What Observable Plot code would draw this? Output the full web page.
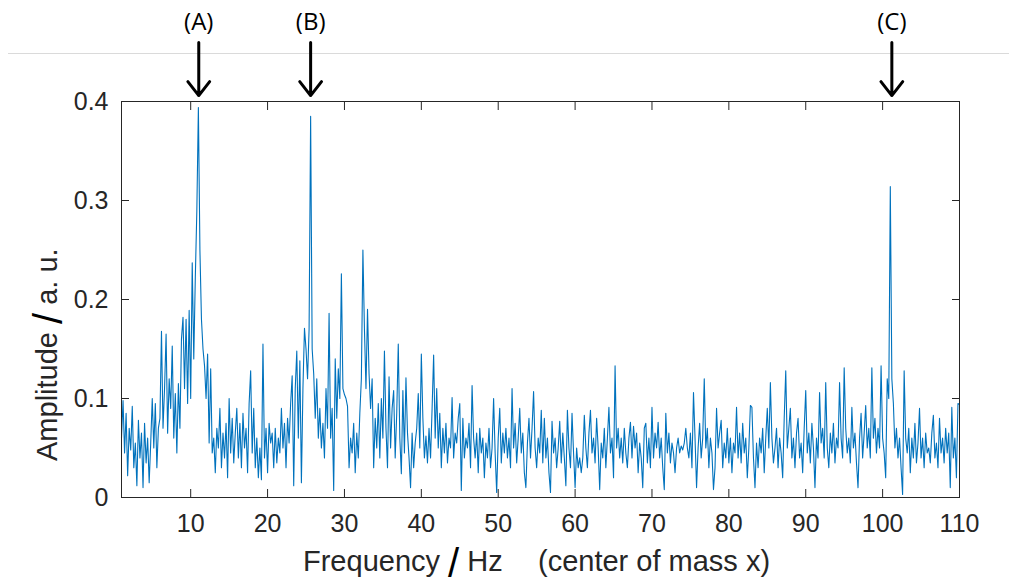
<!DOCTYPE html>
<html>
<head>
<meta charset="utf-8">
<script src="https://cdn.jsdelivr.net/npm/d3@7"></script>
<script src="https://cdn.jsdelivr.net/npm/@observablehq/plot@0.6"></script>
<style>
  html, body { margin: 0; padding: 0; background: #fff; }
  #chart { width: 1009px; height: 586px; }
</style>
</head>
<body>
<div id="chart"></div>
<script>
// ---- data ----
const freqStart = 1;      // Hz, first sample
const freqStep = 0.2;     // Hz between samples
const amplitude = [
  // 1.0 - 5.8 Hz
  .060,.098,.045,.085,.022,.070,.048,.092,.030,.055,.012,.078,.040,.065,.010,.075,.035,.060,.015,.055,.100,.050,.095,.030,.070,
  // 6.0 - 10.8
  .080,.168,.070,.110,.165,.065,.120,.090,.153,.060,.105,.045,.115,.070,.160,.182,.110,.180,.095,.189,.100,.237,.140,.222,.290,
  // 11.0 - 15.8
  .394,.250,.180,.150,.133,.100,.145,.055,.130,.045,.060,.025,.070,.050,.090,.030,.065,.040,.075,.020,.100,.045,.080,.035,.065,
  // 16.0 - 20.8
  .090,.040,.075,.030,.085,.050,.070,.025,.095,.128,.045,.090,.030,.060,.020,.050,.018,.155,.040,.070,.025,.075,.055,.065,.030,
  // 21.0 - 25.8
  .070,.035,.060,.045,.090,.050,.075,.030,.080,.055,.095,.123,.012,.110,.148,.060,.138,.015,.110,.171,.150,.120,.170,.385,.150,
  // 26.0 - 30.8
  .125,.080,.120,.060,.090,.050,.075,.040,.110,.070,.186,.060,.090,.007,.140,.080,.130,.100,.226,.110,.104,.100,.092,.030,.060,
  // 31.0 - 35.8
  .045,.075,.025,.065,.040,.085,.120,.250,.170,.110,.190,.125,.090,.120,.030,.080,.050,.095,.040,.100,.060,.148,.070,.030,.122,
  // 36.0 - 40.8
  .050,.090,.108,.040,.085,.155,.060,.024,.108,.045,.121,.065,.040,.010,.065,.030,.055,.070,.105,.050,.145,.080,.040,.062,.035,
  // 41.0 - 45.8
  .070,.040,.090,.144,.060,.110,.050,.085,.030,.070,.045,.075,.035,.060,.050,.101,.040,.065,.055,.080,.095,.007,.080,.040,.060,
  // 46.0 - 50.8
  .050,.075,.030,.113,.060,.040,.065,.025,.070,.045,.060,.020,.055,.040,.070,.030,.050,.100,.045,.005,.060,.090,.035,.065,.045,
  // 51.0 - 55.8
  .070,.040,.060,.030,.110,.050,.075,.035,.060,.090,.045,.065,.025,.010,.055,.080,.040,.070,.107,.050,.030,.060,.045,.088,.035,
  // 56.0 - 60.8
  .080,.040,.060,.025,.005,.077,.045,.060,.030,.050,.077,.035,.065,.040,.012,.088,.050,.030,.085,.045,.010,.050,.030,.040,.025,
  // 61.0 - 65.8
  .040,.083,.050,.030,.065,.088,.045,.060,.035,.080,.050,.008,.055,.040,.070,.030,.060,.091,.045,.060,.020,.133,.050,.070,.040,
  // 66.0 - 70.8
  .060,.035,.070,.045,.030,.060,.076,.040,.072,.050,.065,.025,.055,.040,.010,.070,.075,.035,.060,.030,.091,.040,.065,.050,.076,
  // 71.0 - 75.8
  .040,.060,.030,.008,.085,.045,.065,.035,.055,.045,.025,.050,.060,.045,.052,.048,.055,.070,.050,.040,.065,.030,.106,.060,.010,
  // 76.0 - 80.8
  .050,.075,.040,.060,.120,.050,.070,.030,.060,.045,.008,.030,.090,.050,.065,.078,.030,.055,.040,.070,.035,.060,.025,.055,.045,
  // 81.0 - 85.8
  .091,.040,.065,.035,.075,.045,.060,.020,.050,.093,.091,.040,.010,.055,.030,.060,.045,.070,.025,.060,.090,.050,.116,.060,.035,
  // 86.0 - 90.8
  .050,.070,.030,.060,.045,.020,.080,.128,.050,.070,.090,.040,.060,.030,.065,.080,.040,.055,.025,.070,.108,.045,.065,.035,.075,
  // 91.0 - 95.8
  .050,.010,.060,.040,.106,.055,.070,.040,.116,.050,.030,.065,.045,.075,.035,.060,.050,.116,.060,.040,.131,.070,.045,.060,.035,
  // 96.0 - 100.8
  .091,.050,.065,.035,.010,.060,.085,.040,.065,.093,.050,.070,.040,.131,.060,.080,.045,.070,.050,.133,.060,.045,.020,.120,.100,
  // 101.0 - 105.8
  .314,.120,.095,.050,.070,.040,.060,.030,.003,.128,.060,.045,.070,.025,.060,.040,.075,.035,.055,.090,.040,.060,.030,.065,.045,
  // 106.0 - 110.0
  .050,.035,.065,.083,.040,.055,.030,.080,.045,.060,.035,.070,.045,.065,.010,.091,.040,.060,.020,.095,.094
];

const xTicks = [10, 20, 30, 40, 50, 60, 70, 80, 90, 100, 110];
const yTicks = [0, 0.1, 0.2, 0.3, 0.4];
const yTickLabels = ["0", "0.1", "0.2", "0.3", "0.4"];

const annoLabels = ["(A)", "(B)", "(C)"];
const annoFreq = [11.05, 25.6, 101.2];

const xLabelMain = "Frequency ";
const xLabelUnit = " Hz";
const xLabelNote = "(center of mass x)";
const yLabelMain = "Amplitude ";
const yLabelUnit = " a. u.";

// ---- build tables ----
const data = amplitude.map((a, i) => ({ f: freqStart + i * freqStep, a }));
const annos = annoLabels.map((label, i) => ({ label, f: annoFreq[i] }));

const axisFont = "'Liberation Sans', Arial, Helvetica, sans-serif";
const ink = "#262626";

const chart = Plot.plot({
  width: 1009,
  height: 586,
  marginLeft: 121,
  marginRight: 50,
  marginTop: 101,
  marginBottom: 89,
  style: { fontFamily: axisFont, background: "white", color: ink, overflow: "visible" },
  x: { domain: [1, 110] },
  y: { domain: [0, 0.4] },
  marks: [
    Plot.line(data, { x: "f", y: "a", stroke: "#0072BD", strokeWidth: 1.1 }),
    Plot.axisX({ anchor: "bottom", ticks: xTicks, tickSize: -8, tickPadding: 25, fontSize: 25, label: null, tickFormat: d => String(d) }),
    Plot.axisX({ anchor: "top", ticks: xTicks, tickSize: -8, tickFormat: () => "", label: null }),
    Plot.axisY({ anchor: "left", ticks: yTicks, tickSize: -8, tickPadding: 21, fontSize: 25, label: null, tickFormat: d => yTickLabels[yTicks.indexOf(d)] }),
    Plot.axisY({ anchor: "right", ticks: yTicks, tickSize: -8, tickFormat: () => "", label: null }),
    Plot.frame({ stroke: ink, strokeWidth: 1 }),
    Plot.text(annos, { x: "f", frameAnchor: "top", lineAnchor: "middle", dy: -79, text: "label", fontSize: 24, fontFamily: "'Open Sans', 'Noto Sans', sans-serif", fill: "black" }),
    Plot.arrow(annos, { x: "f", y1: () => 0.4596, y2: () => 0.406, stroke: "black", strokeWidth: 3, headLength: 10, headAngle: 76 })
  ]
});

const svg = d3.select(chart);

// thin grey separator line across the page (part of the original slide)
svg.insert("line", ":first-child")
  .attr("x1", 8).attr("x2", 1009).attr("y1", 53.5).attr("y2", 53.5)
  .attr("stroke", "#dadada").attr("stroke-width", 1);

// x axis title
const xl = svg.append("text")
  .attr("x", 303).attr("y", 571)
  .attr("text-anchor", "start")
  .attr("font-family", axisFont).attr("font-size", 29).attr("fill", ink)
  .style("white-space", "pre");
xl.append("tspan").text(xLabelMain);
xl.append("tspan").attr("font-size", 40).attr("fill", "#000").attr("dy", 6).text("/");
xl.append("tspan").attr("dy", -6).text(xLabelUnit);
xl.append("tspan").attr("x", 538).text(xLabelNote);

// y axis title
const yl = svg.append("text")
  .attr("transform", "rotate(-90)")
  .attr("x", -461).attr("y", 57)
  .attr("text-anchor", "start")
  .attr("font-family", axisFont).attr("font-size", 29).attr("fill", ink)
  .style("white-space", "pre");
yl.append("tspan").text(yLabelMain);
yl.append("tspan").attr("font-size", 40).attr("fill", "#000").attr("dy", 5).text("/");
yl.append("tspan").attr("dy", -5).text(yLabelUnit);

document.getElementById("chart").appendChild(chart);
</script>
</body>
</html>
